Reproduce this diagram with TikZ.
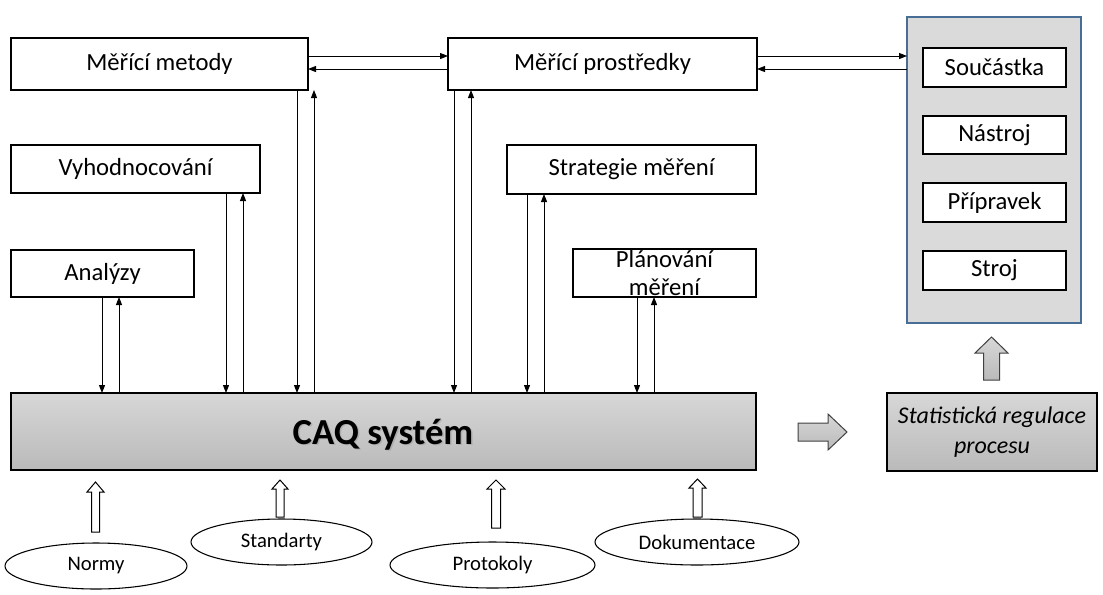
\documentclass[tikz,border=0pt]{standalone}
\usepackage{fontspec}
\setmainfont{Carlito}
\usetikzlibrary{arrows.meta,shapes.geometric,calc}
\definecolor{panelfill}{RGB}{218,218,218}
\definecolor{panelline}{RGB}{72,110,150}
\definecolor{gtop}{RGB}{215,215,215}
\definecolor{gbot}{RGB}{186,186,186}
\tikzset{
  box/.style={draw, line width=0.9pt, inner sep=0pt, outer sep=0pt, font=\fontsize{18.5}{22}\selectfont},
  wbox/.style={box, fill=white},
  oval/.style={ellipse, draw, line width=0.8pt, inner sep=0pt, fill=white, font=\fontsize{15.5}{18}\selectfont},
  conn/.style={line width=0.75pt, -{Triangle[length=6pt,width=4.5pt]}},
  hollow/.style={draw, line width=0.75pt, fill=white},
  grayarrow/.style={draw=black!75, line width=0.75pt, top color=gtop, bottom color=gbot},
  caqfont/.style={font=\fontsize{27.5}{30}\bfseries\selectfont},
}
\newcommand\bx[6][]{\node[#1, minimum width={(#4-#2)*0.75pt}, minimum height={(#5-#3)*0.75pt}] (#6) at ({(#2+#4)/2},{(#3+#5)/2})}
\newcommand\hollowup[7]{\draw[#1] ({#2-#6},#7) -- ({#2-#6},#5) -- ({#2-#4},#5) -- (#2,#3) -- ({#2+#4},#5) -- ({#2+#6},#5) -- ({#2+#6},#7) -- cycle;}
\begin{document}
\begin{tikzpicture}[x=0.75pt,y=-0.75pt]
\useasboundingbox (0,0) rectangle (1103,594);
% top row
\bx[wbox]{11}{38}{308}{90}{met} {Měřící metody};
\bx[wbox]{448}{38}{757}{90}{pro} {Měřící prostředky};
% right panel
\bx[box, draw=panelline, fill=panelfill]{907}{17}{1081}{323}{panel} {};
\bx[wbox]{923}{48}{1066}{87}{sou} {Součástka};
\bx[wbox]{923}{116}{1066}{154}{nas} {Nástroj};
\bx[wbox]{923}{183}{1066}{222}{pri} {Přípravek};
\bx[wbox]{923}{251}{1066}{290}{str} {Stroj};
% middle rows
\bx[wbox]{11}{145}{260}{193}{vyh} {Vyhodnocování};
\bx[wbox]{507}{145}{756}{194}{stg} {Strategie měření};
\bx[wbox]{11}{250}{194}{297}{ana} {Analýzy};
\bx[wbox, align=center, font=\fontsize{18.5}{20.3}\selectfont]{573}{249}{756}{297}{pla} {Plánování\\měření};
% CAQ
\bx[box, top color=gtop, bottom color=gbot]{11}{393}{756}{470}{caq} {};
\node[caqfont, text=black!40, opacity=0.5, anchor=base] (caqsh) at (384.5,445) {CAQ systém};
\node[caqfont, anchor=base] (caqt) at (383,444) {CAQ systém};
% statistical regulation
\bx[box, top color=gtop, bottom color=gbot, align=center, font=\fontsize{18}{22.5}\itshape\selectfont]{887}{393}{1097}{471}{spc} {Statistická regulace\\procesu};
% ellipses
\bx[oval]{5}{543}{187}{589}{nor} {Normy};
\bx[oval]{191}{519}{372}{565}{sta} {Standarty};
\bx[oval]{390}{542}{595}{588}{prt} {Protokoly};
\bx[oval]{595}{519}{799}{565}{dok} {Dokumentace};
% horizontal connectors
\draw[conn] (met.east |- 0,56) -- (pro.west |- 0,56);
\draw[conn] (pro.west |- 0,69) -- (met.east |- 0,69);
\draw[conn] (pro.east |- 0,56) -- (panel.west |- 0,56);
\draw[conn] (panel.west |- 0,69) -- (pro.east |- 0,69);
% vertical connectors
\draw[conn] (ana.south -| 102,0) -- (caq.north -| 102,0);
\draw[conn] (caq.north -| 119,0) -- (ana.south -| 119,0);
\draw[conn] (vyh.south -| 226,0) -- (caq.north -| 226,0);
\draw[conn] (caq.north -| 243,0) -- (vyh.south -| 243,0);
\draw[conn] (met.south -| 297,0) -- (caq.north -| 297,0);
\draw[conn] (caq.north -| 314,0) -- (met.south -| 314,0);
\draw[conn] (pro.south -| 454,0) -- (caq.north -| 454,0);
\draw[conn] (caq.north -| 471,0) -- (pro.south -| 471,0);
\draw[conn] (stg.south -| 527,0) -- (caq.north -| 527,0);
\draw[conn] (caq.north -| 544,0) -- (stg.south -| 544,0);
\draw[conn] (pla.south -| 637,0) -- (caq.north -| 637,0);
\draw[conn] (caq.north -| 654,0) -- (pla.south -| 654,0);
% hollow block arrows
\hollowup{hollow}{95.5}{482}{8.5}{492}{4}{532}
\hollowup{hollow}{280}{480}{8}{489}{4}{517}
\hollowup{hollow}{496}{480}{9}{489}{4.5}{528}
\hollowup{hollow}{697.5}{479}{8.5}{488}{4.5}{517}
% gray block arrows
\hollowup{grayarrow}{991.5}{337}{16.5}{353}{8}{380}
\draw[grayarrow] (798,423) -- (828,423) -- (828,414) -- (847,432) -- (828,450) -- (828,441) -- (798,441) -- cycle;
\end{tikzpicture}
\end{document}
